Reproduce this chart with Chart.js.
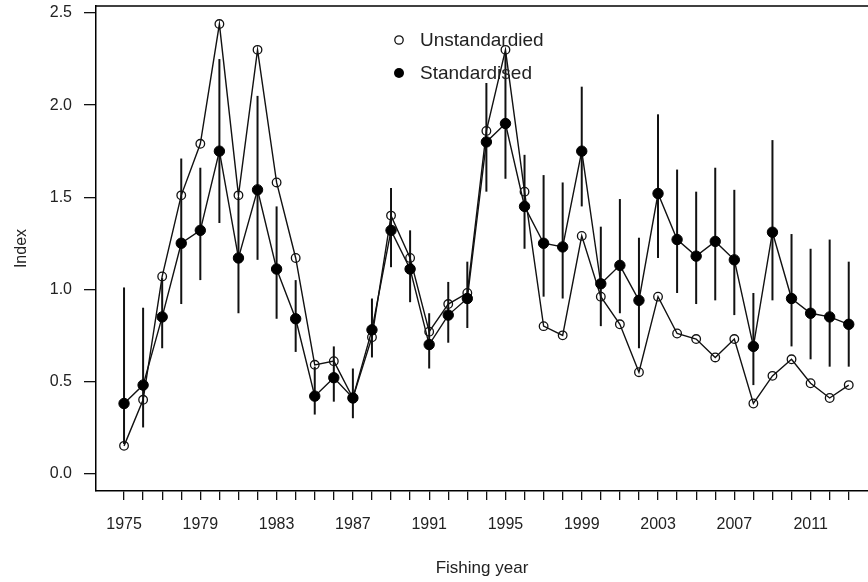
<!DOCTYPE html>
<html>
<head>
<meta charset="utf-8">
<script src="https://cdn.jsdelivr.net/npm/chart.js@4/dist/chart.umd.min.js"></script>
<style>
  html, body { margin: 0; padding: 0; background: #fff; overflow: hidden; }
  #wrap { width: 868px; height: 582px; position: relative; }
</style>
</head>
<body>
<div id="wrap"><canvas id="c" width="868" height="582"></canvas></div>
<script>
// ---- Data ----
const years = [1975,1976,1977,1978,1979,1980,1981,1982,1983,1984,1985,1986,1987,1988,1989,1990,1991,1992,1993,1994,1995,1996,1997,1998,1999,2000,2001,2002,2003,2004,2005,2006,2007,2008,2009,2010,2011,2012,2013];
const unstandardised = [0.15,0.40,1.07,1.51,1.79,2.44,1.51,2.30,1.58,1.17,0.59,0.61,0.41,0.74,1.40,1.17,0.77,0.92,0.98,1.86,2.30,1.53,0.80,0.75,1.29,0.96,0.81,0.55,0.96,0.76,0.73,0.63,0.73,0.38,0.53,0.62,0.49,0.41,0.48];
const standardised = [0.38,0.48,0.85,1.25,1.32,1.75,1.17,1.54,1.11,0.84,0.42,0.52,0.41,0.78,1.32,1.11,0.70,0.86,0.95,1.80,1.90,1.45,1.25,1.23,1.75,1.03,1.13,0.94,1.52,1.27,1.18,1.26,1.16,0.69,1.31,0.95,0.87,0.85,0.81];
const standardisedLower = [0.16,0.25,0.68,0.92,1.05,1.36,0.87,1.16,0.84,0.66,0.32,0.39,0.30,0.63,1.12,0.93,0.57,0.71,0.79,1.53,1.60,1.22,0.96,0.95,1.45,0.80,0.87,0.68,1.17,0.98,0.92,0.94,0.86,0.48,0.94,0.69,0.62,0.58,0.58];
const standardisedUpper = [1.01,0.90,1.06,1.71,1.66,2.25,1.50,2.05,1.45,1.05,0.58,0.69,0.57,0.95,1.55,1.32,0.87,1.04,1.15,2.12,2.28,1.73,1.62,1.58,2.10,1.34,1.49,1.28,1.95,1.65,1.53,1.66,1.54,0.98,1.81,1.30,1.22,1.27,1.15];
const xTickLabels = ['1975','1979','1983','1987','1991','1995','1999','2003','2007','2011'];
const yTickValues = [0.0,0.5,1.0,1.5,2.0,2.5];
const seriesLabels = ['Unstandardied','Standardised'];
const xTitle = 'Fishing year';
const yTitle = 'Index';

// ---- Styling ----
const FONT = '"Liberation Sans", Arial, sans-serif';
const TEXT = '#222';

const errorBars = {
  id: 'errorBars',
  beforeDatasetsDraw(chart) {
    const {ctx, scales: {x, y}} = chart;
    ctx.save();
    ctx.strokeStyle = '#111';
    ctx.lineWidth = 2;
    years.forEach((yr, i) => {
      const px = x.getPixelForValue(yr);
      ctx.beginPath();
      ctx.moveTo(px, y.getPixelForValue(standardisedLower[i]));
      ctx.lineTo(px, y.getPixelForValue(standardisedUpper[i]));
      ctx.stroke();
    });
    ctx.restore();
  }
};

const frameAndLegend = {
  id: 'frameAndLegend',
  afterDraw(chart) {
    const {ctx, chartArea} = chart;
    ctx.save();
    ctx.strokeStyle = '#000';
    ctx.lineWidth = 1.5;
    ctx.beginPath();
    ctx.moveTo(chartArea.left, chartArea.top);
    ctx.lineTo(chartArea.right, chartArea.top);
    ctx.stroke();
    const lx = 399, ly = [40, 73];
    ctx.font = '19px ' + FONT;
    ctx.fillStyle = TEXT;
    ctx.textBaseline = 'middle';
    ctx.textAlign = 'left';
    ctx.lineWidth = 1.3;
    ctx.strokeStyle = '#111';
    ctx.beginPath(); ctx.arc(lx, ly[0], 4.2, 0, Math.PI * 2); ctx.stroke();
    ctx.fillText(seriesLabels[0], 420, ly[0] + 1);
    ctx.fillStyle = '#000';
    ctx.beginPath(); ctx.arc(lx, ly[1], 5, 0, Math.PI * 2); ctx.fill();
    ctx.fillStyle = TEXT;
    ctx.fillText(seriesLabels[1], 420, ly[1] + 1);
    ctx.restore();
  }
};

new Chart(document.getElementById('c'), {
  type: 'line',
  data: {
    datasets: [
      {
        label: seriesLabels[1],
        data: years.map((yr, i) => ({x: yr, y: standardised[i]})),
        borderColor: '#111',
        borderWidth: 1.4,
        pointRadius: 5.2,
        pointBackgroundColor: '#000',
        pointBorderColor: '#000',
        pointBorderWidth: 1,
        tension: 0
      },
      {
        label: seriesLabels[0],
        data: years.map((yr, i) => ({x: yr, y: unstandardised[i]})),
        borderColor: '#111',
        borderWidth: 1.4,
        pointRadius: 4.3,
        pointBackgroundColor: 'rgba(255,255,255,0)',
        pointBorderColor: '#111',
        pointBorderWidth: 1.3,
        tension: 0
      }
    ]
  },
  options: {
    responsive: false,
    animation: false,
    devicePixelRatio: 1,
    layout: { autoPadding: false, padding: { top: 6, left: 0, right: 0, bottom: 0 } },
    plugins: { legend: { display: false }, tooltip: { enabled: false } },
    scales: {
      x: {
        type: 'linear',
        min: 1973.53,
        max: 2014.01,
        afterFit(s) { s.height = 91; s.paddingLeft = 0; s.paddingRight = 0; },
        afterBuildTicks(s) { s.ticks = years.map(v => ({value: v})); },
        ticks: {
          autoSkip: false,
          maxRotation: 0,
          minRotation: 0,
          padding: 15,
          color: TEXT,
          font: { family: FONT, size: 16 },
          callback: (v) => xTickLabels.includes(String(v)) ? String(v) : ''
        },
        grid: { display: true, drawOnChartArea: false, drawTicks: true, tickLength: 9, color: '#111', lineWidth: 1.3 },
        border: { display: true, color: '#000', width: 1.5 },
        title: { display: true, text: xTitle, color: TEXT, font: { family: FONT, size: 17 }, padding: { top: 0, bottom: 3 } }
      },
      y: {
        type: 'linear',
        min: -0.095,
        max: 2.538,
        afterFit(s) { s.width = 96; s.paddingTop = 0; s.paddingBottom = 0; },
        afterBuildTicks(s) { s.ticks = yTickValues.map(v => ({value: v})); },
        ticks: {
          autoSkip: false,
          padding: 12,
          color: TEXT,
          font: { family: FONT, size: 16 },
          callback: (v) => Number(v).toFixed(1)
        },
        grid: { display: true, drawOnChartArea: false, drawTicks: true, tickLength: 12, color: '#111', lineWidth: 1.3 },
        border: { display: true, color: '#000', width: 1.5 },
        title: { display: true, text: yTitle, color: TEXT, font: { family: FONT, size: 16 }, padding: { top: 12, bottom: 0 } }
      }
    }
  },
  plugins: [errorBars, frameAndLegend]
});
</script>
</body>
</html>
